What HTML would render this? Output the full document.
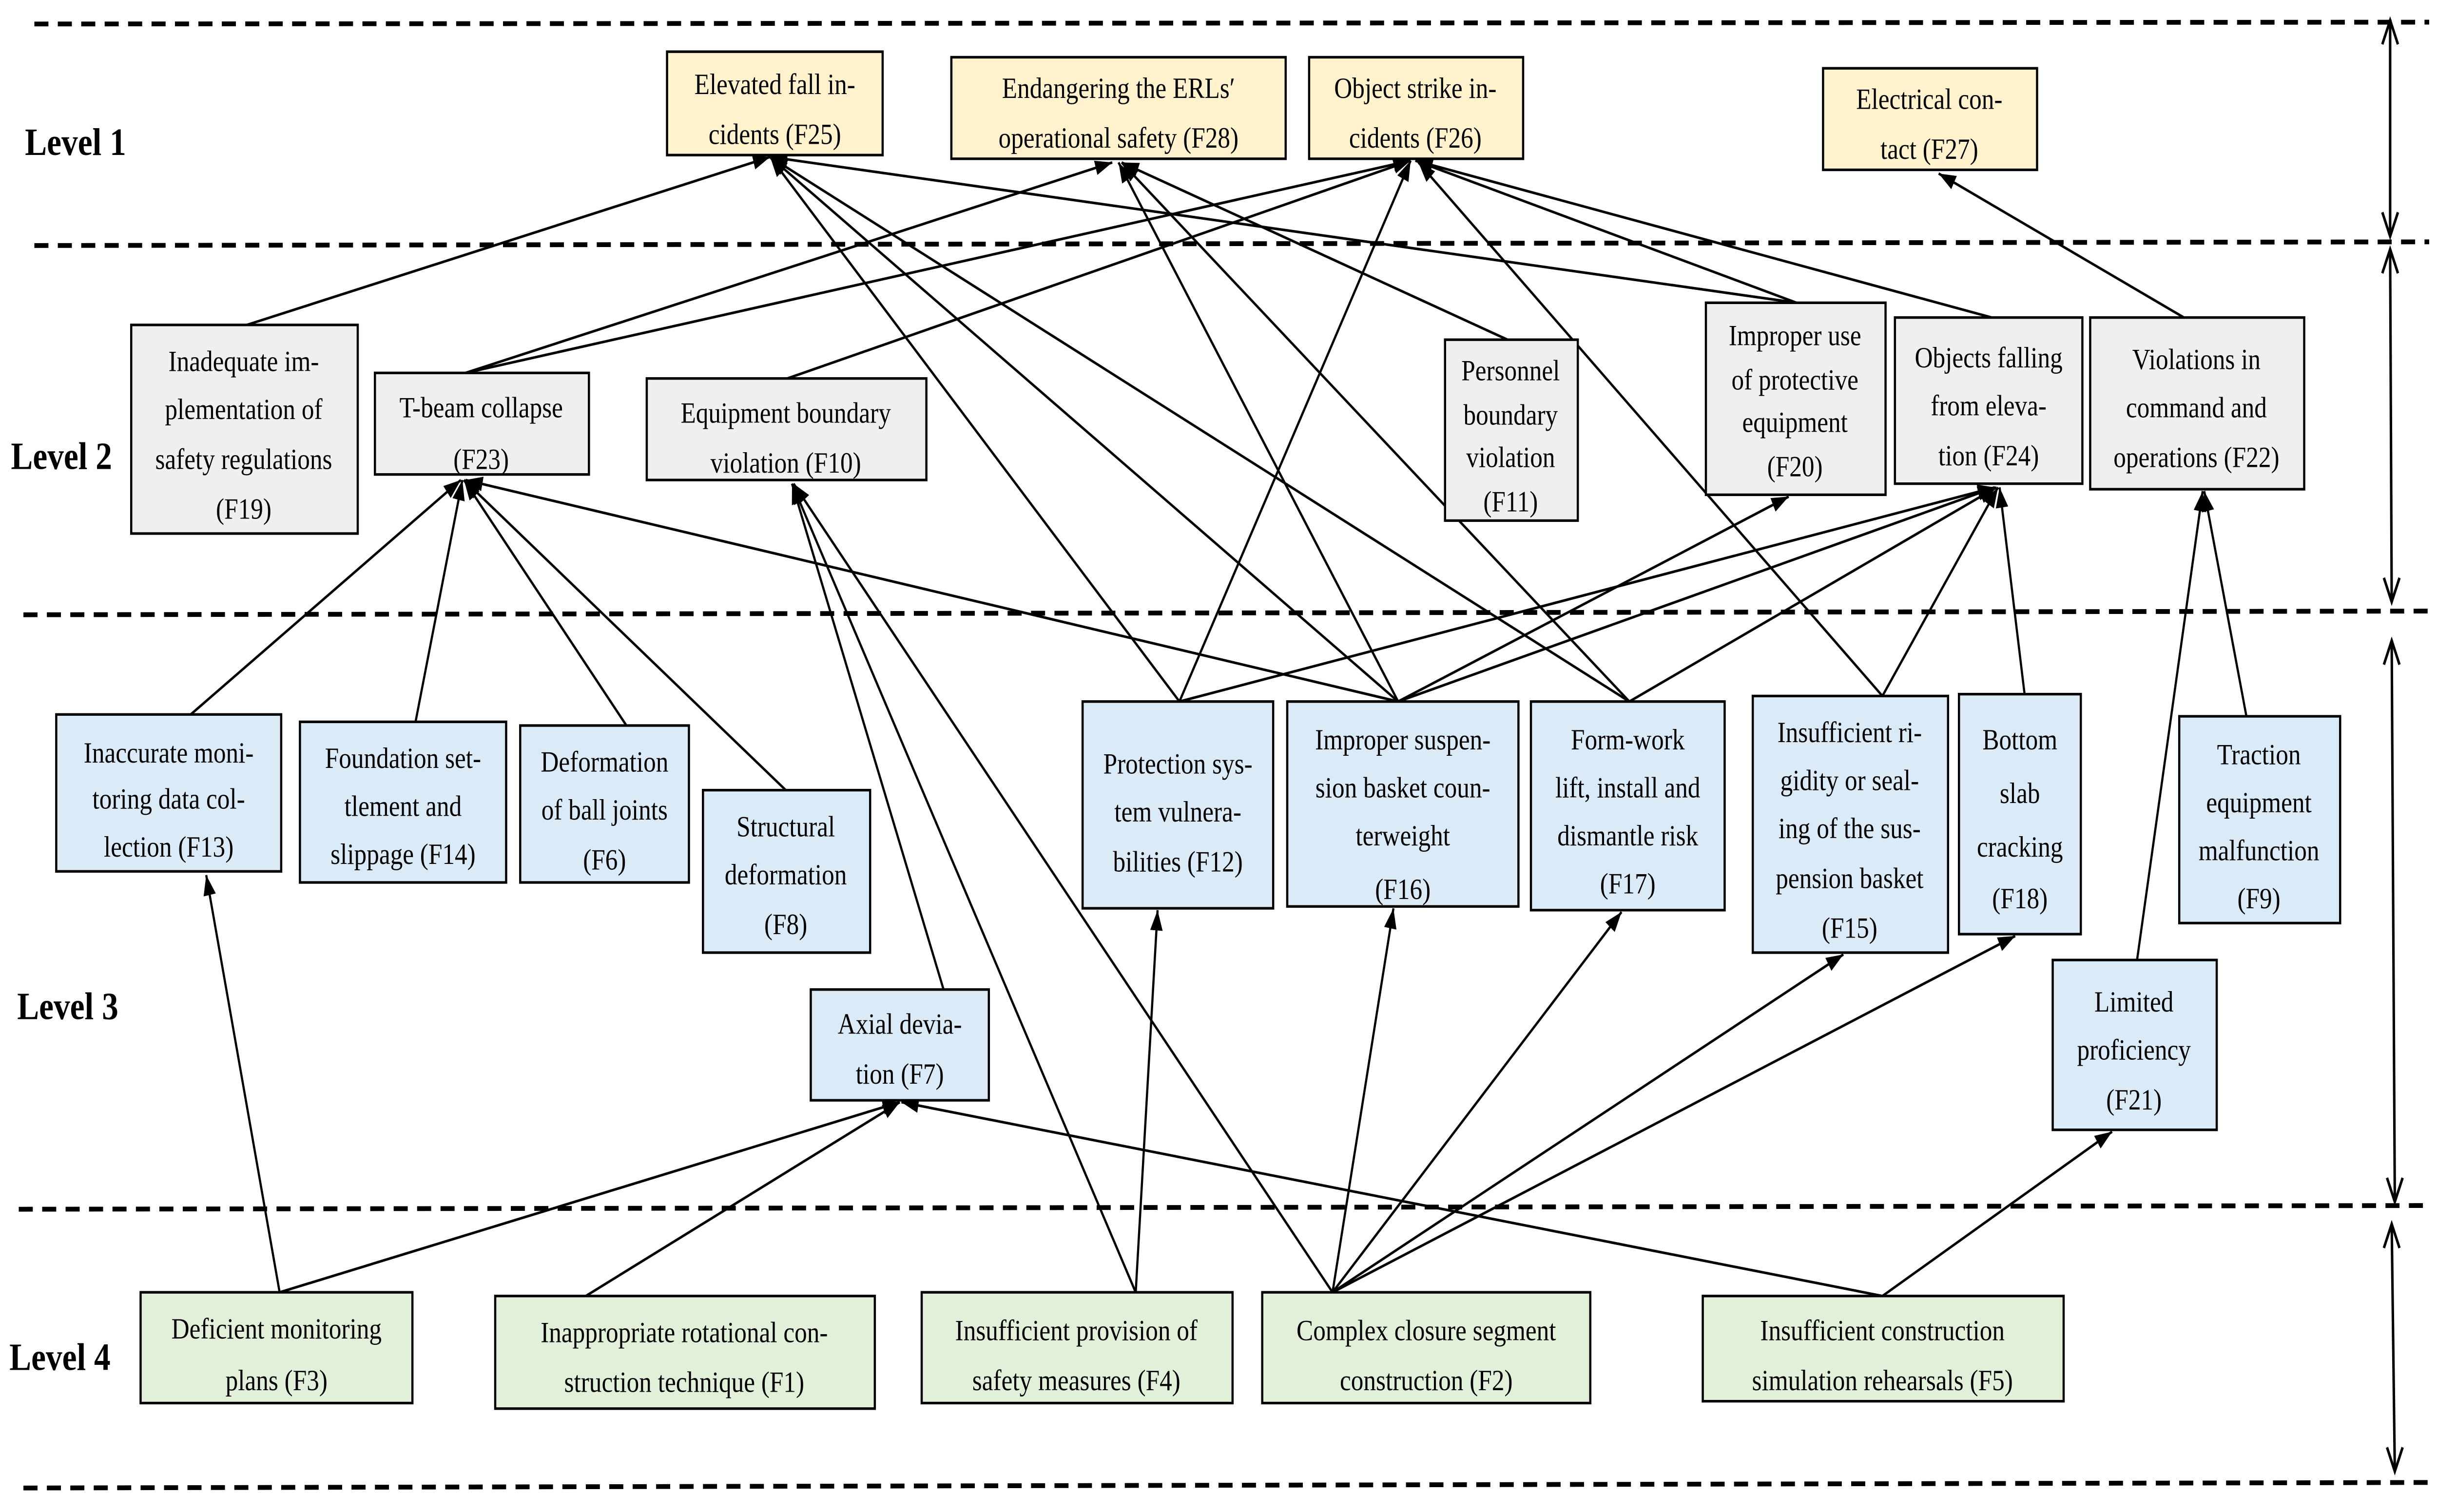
<!DOCTYPE html>
<html><head><meta charset="utf-8"><style>
html,body{margin:0;padding:0;background:#fff;width:100%;height:100%;overflow:hidden;}
svg{display:block;width:100vw;height:100vh;}
text{font-family:"Liberation Serif",serif;}
</style></head><body>
<svg xmlns="http://www.w3.org/2000/svg" viewBox="0 0 1560 819" preserveAspectRatio="none">
<defs>
<marker id="a" markerUnits="userSpaceOnUse" markerWidth="12" markerHeight="10" refX="11" refY="4" orient="auto">
<path d="M0,0 L11,4 L0,8 Z" fill="#000"/>
</marker>
</defs>
<rect width="1560" height="819" fill="#fff"/>
<g stroke="#000" stroke-width="2.6" stroke-dasharray="9 6" fill="none">
<line x1="22" y1="13" x2="1555" y2="12"/>
<line x1="22" y1="133" x2="1555" y2="131"/>
<line x1="15" y1="333" x2="1555" y2="331"/>
<line x1="12" y1="655" x2="1555" y2="653"/>
<line x1="15" y1="806" x2="1555" y2="803"/>
</g>
<g stroke="#000" stroke-width="1.6" fill="none">
<line x1="1530" y1="11" x2="1530" y2="128"/><path d="M1525,24 L1530,11 L1535,24 M1525,115 L1530,128 L1535,115"/>
<line x1="1530" y1="135" x2="1531" y2="326"/><path d="M1525,148 L1530,135 L1535,148 M1526,313 L1531,326 L1536,313"/>
<line x1="1531" y1="347" x2="1533" y2="651"/><path d="M1526,360 L1531,347 L1536,360 M1528,638 L1533,651 L1538,638"/>
<line x1="1531" y1="663" x2="1533" y2="797"/><path d="M1526,676 L1531,663 L1536,676 M1528,784 L1533,797 L1538,784"/>
</g>
<g font-weight="bold" font-size="21" fill="#000">
<text x="16" y="84">Level 1</text>
<text x="7" y="254">Level 2</text>
<text x="11" y="552">Level 3</text>
<text x="6" y="742">Level 4</text>
</g>
<g stroke="#000" stroke-width="1.4" fill="none" marker-end="url(#a)">
<line x1="158" y1="176" x2="493" y2="85"/>
<line x1="755" y1="380" x2="493" y2="85"/>
<line x1="895" y1="380" x2="493" y2="85"/>
<line x1="1043" y1="380" x2="493" y2="85"/>
<line x1="1150" y1="164" x2="493" y2="85"/>
<line x1="298" y1="202" x2="712" y2="88"/>
<line x1="895" y1="380" x2="716" y2="88"/>
<line x1="1043" y1="380" x2="718" y2="88"/>
<line x1="965" y1="184" x2="718" y2="88"/>
<line x1="298" y1="202" x2="903" y2="87"/>
<line x1="504" y1="205" x2="903" y2="87"/>
<line x1="755" y1="380" x2="903" y2="87"/>
<line x1="1150" y1="164" x2="906" y2="87"/>
<line x1="1275" y1="172" x2="906" y2="87"/>
<line x1="1205" y1="377" x2="908" y2="88"/>
<line x1="1398" y1="172" x2="1241" y2="94"/>
<line x1="118" y1="390" x2="295" y2="260"/>
<line x1="266" y1="391" x2="296" y2="260"/>
<line x1="401" y1="393" x2="297" y2="260"/>
<line x1="503" y1="428" x2="297" y2="260"/>
<line x1="895" y1="380" x2="298" y2="260"/>
<line x1="604" y1="536" x2="507" y2="262"/>
<line x1="727" y1="700" x2="507" y2="262"/>
<line x1="853" y1="700" x2="508" y2="262"/>
<line x1="895" y1="380" x2="1145" y2="269"/>
<line x1="755" y1="380" x2="1277" y2="264"/>
<line x1="895" y1="380" x2="1277" y2="264"/>
<line x1="1043" y1="380" x2="1278" y2="264"/>
<line x1="1205" y1="377" x2="1279" y2="264"/>
<line x1="1296" y1="376" x2="1280" y2="264"/>
<line x1="1368" y1="520" x2="1410" y2="266"/>
<line x1="1438" y1="388" x2="1411" y2="266"/>
<line x1="179" y1="700" x2="132" y2="474"/>
<line x1="727" y1="700" x2="741" y2="493"/>
<line x1="853" y1="700" x2="892" y2="492"/>
<line x1="853" y1="700" x2="1038" y2="494"/>
<line x1="853" y1="700" x2="1180" y2="517"/>
<line x1="853" y1="700" x2="1290" y2="507"/>
<line x1="179" y1="700" x2="576" y2="597"/>
<line x1="375" y1="702" x2="576" y2="597"/>
<line x1="1205" y1="702" x2="577" y2="597"/>
<line x1="1205" y1="702" x2="1352" y2="613"/>
</g>
<g stroke="#000" stroke-width="1.4">
<g fill="#fff2cc">
<rect x="427" y="28" width="138" height="56"/>
<rect x="609" y="31" width="214" height="55"/>
<rect x="838" y="31" width="137" height="55"/>
<rect x="1167" y="37" width="137" height="55"/>
</g>
<g fill="#efefef">
<rect x="84" y="176" width="145" height="113"/>
<rect x="240" y="202" width="137" height="55"/>
<rect x="414" y="205" width="179" height="55"/>
<rect x="925" y="184" width="85" height="98"/>
<rect x="1092" y="164" width="115" height="104"/>
<rect x="1213" y="172" width="120" height="90"/>
<rect x="1338" y="172" width="137" height="93"/>
</g>
<g fill="#dbeaf7">
<rect x="36" y="387" width="144" height="85"/>
<rect x="192" y="391" width="132" height="87"/>
<rect x="333" y="393" width="108" height="85"/>
<rect x="450" y="428" width="107" height="88"/>
<rect x="519" y="536" width="114" height="60"/>
<rect x="693" y="380" width="122" height="112"/>
<rect x="824" y="380" width="148" height="111"/>
<rect x="980" y="380" width="124" height="113"/>
<rect x="1122" y="377" width="125" height="139"/>
<rect x="1254" y="376" width="78" height="130"/>
<rect x="1395" y="388" width="103" height="112"/>
<rect x="1314" y="520" width="105" height="92"/>
</g>
<g fill="#e2f0d9">
<rect x="90" y="700" width="174" height="60"/>
<rect x="317" y="702" width="243" height="61"/>
<rect x="590" y="700" width="199" height="60"/>
<rect x="808" y="700" width="210" height="60"/>
<rect x="1090" y="702" width="231" height="57"/>
</g>
</g>
<g font-size="16" text-anchor="middle" fill="#000">
<text x="496" y="51">Elevated fall in-</text><text x="496" y="78">cidents (F25)</text>
<text x="716" y="53">Endangering the ERLs′</text><text x="716" y="80">operational safety (F28)</text>
<text x="906" y="53">Object strike in-</text><text x="906" y="80">cidents (F26)</text>
<text x="1235" y="59">Electrical con-</text><text x="1235" y="86">tact (F27)</text>
<text x="156" y="201">Inadequate im-</text><text x="156" y="227">plementation of</text><text x="156" y="254">safety regulations</text><text x="156" y="281">(F19)</text>
<text x="308" y="226">T-beam collapse</text><text x="308" y="254">(F23)</text>
<text x="503" y="229">Equipment boundary</text><text x="503" y="256">violation (F10)</text>
<text x="967" y="206">Personnel</text><text x="967" y="230">boundary</text><text x="967" y="253">violation</text><text x="967" y="277">(F11)</text>
<text x="1149" y="187">Improper use</text><text x="1149" y="211">of protective</text><text x="1149" y="234">equipment</text><text x="1149" y="258">(F20)</text>
<text x="1273" y="199">Objects falling</text><text x="1273" y="225">from eleva-</text><text x="1273" y="252">tion (F24)</text>
<text x="1406" y="200">Violations in</text><text x="1406" y="226">command and</text><text x="1406" y="253">operations (F22)</text>
<text x="108" y="413">Inaccurate moni-</text><text x="108" y="438">toring data col-</text><text x="108" y="464">lection (F13)</text>
<text x="258" y="416">Foundation set-</text><text x="258" y="442">tlement and</text><text x="258" y="468">slippage (F14)</text>
<text x="387" y="418">Deformation</text><text x="387" y="444">of ball joints</text><text x="387" y="471">(F6)</text>
<text x="503" y="453">Structural</text><text x="503" y="479">deformation</text><text x="503" y="506">(F8)</text>
<text x="576" y="560">Axial devia-</text><text x="576" y="587">tion (F7)</text>
<text x="754" y="419">Protection sys-</text><text x="754" y="445">tem vulnera-</text><text x="754" y="472">bilities (F12)</text>
<text x="898" y="406">Improper suspen-</text><text x="898" y="432">sion basket coun-</text><text x="898" y="458">terweight</text><text x="898" y="487">(F16)</text>
<text x="1042" y="406">Form-work</text><text x="1042" y="432">lift, install and</text><text x="1042" y="458">dismantle risk</text><text x="1042" y="484">(F17)</text>
<text x="1184" y="402">Insufficient ri-</text><text x="1184" y="428">gidity or seal-</text><text x="1184" y="454">ing of the sus-</text><text x="1184" y="481">pension basket</text><text x="1184" y="508">(F15)</text>
<text x="1293" y="406">Bottom</text><text x="1293" y="435">slab</text><text x="1293" y="464">cracking</text><text x="1293" y="492">(F18)</text>
<text x="1446" y="414">Traction</text><text x="1446" y="440">equipment</text><text x="1446" y="466">malfunction</text><text x="1446" y="492">(F9)</text>
<text x="1366" y="548">Limited</text><text x="1366" y="574">proficiency</text><text x="1366" y="601">(F21)</text>
<text x="177" y="725">Deficient monitoring</text><text x="177" y="753">plans (F3)</text>
<text x="438" y="727">Inappropriate rotational con-</text><text x="438" y="754">struction technique (F1)</text>
<text x="689" y="726">Insufficient provision of</text><text x="689" y="753">safety measures (F4)</text>
<text x="913" y="726">Complex closure segment</text><text x="913" y="753">construction (F2)</text>
<text x="1205" y="726">Insufficient construction</text><text x="1205" y="753">simulation rehearsals (F5)</text>
</g>
</svg>
</body></html>
